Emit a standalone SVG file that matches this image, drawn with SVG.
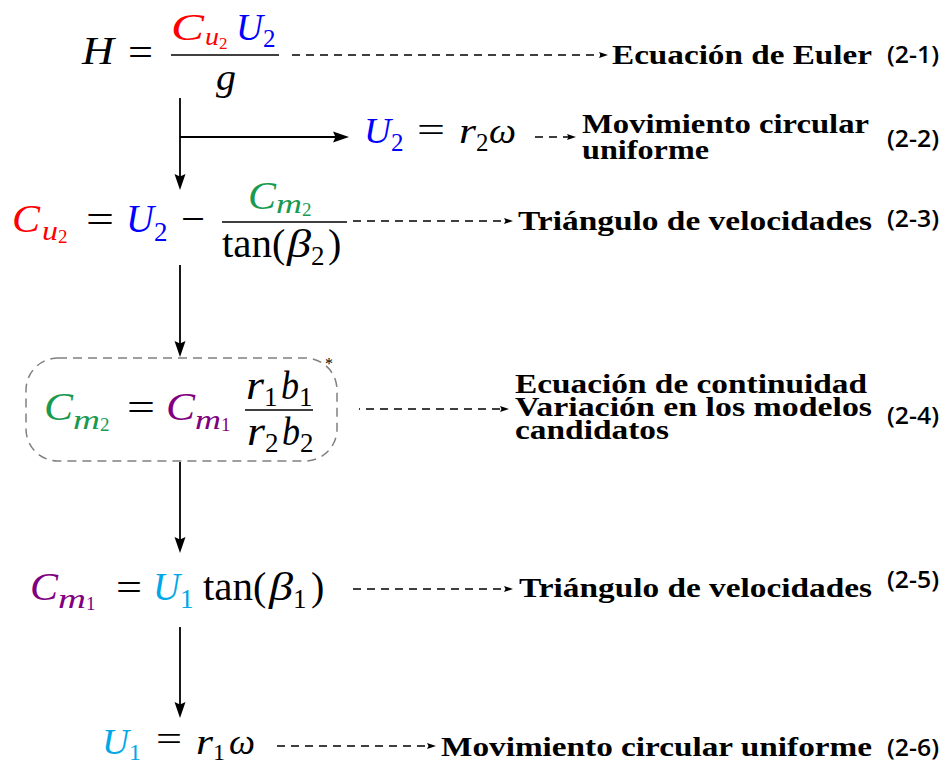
<svg xmlns="http://www.w3.org/2000/svg" width="951" height="765" viewBox="0 0 951 765">
<style>
.m{font-family:"Liberation Serif",serif;font-style:italic}
.r{font-family:"Liberation Serif",serif;font-style:normal}
.lbl{font-family:"Liberation Serif",serif;font-weight:bold;font-size:27px;fill:#000}
.num{font-family:"Open Sans",sans-serif;font-weight:600;font-size:23px;fill:#000}
.bar{stroke:#000;stroke-width:1.4}
.solid{stroke:#000;stroke-width:1.8;fill:none}
.dash{stroke:#000;stroke-width:1.5;stroke-dasharray:8 6;fill:none}
.red{fill:#ff0000}.blue{fill:#0000ff}.green{fill:#1a9a50}.purple{fill:#800080}.cyan{fill:#00a8e8}
</style>
<defs>
<marker id="ah" markerUnits="userSpaceOnUse" markerWidth="18" markerHeight="12" refX="10" refY="6" orient="auto">
<path d="M0,0.5 L16,6 L0,11.5 L2.5,6 z" fill="#000"/>
</marker>
<marker id="dh" markerUnits="userSpaceOnUse" markerWidth="10" markerHeight="7" refX="5" refY="3.5" orient="auto">
<path d="M0,0.5 L9,3.5 L0,6.5 L1.5,3.5 z" fill="#000"/>
</marker>
</defs>
<rect width="951" height="765" fill="#fff"/>

<g id="connectors">
<path class="solid" d="M180,98 V184" marker-end="url(#ah)"/>
<path class="solid" d="M180,137 H343" marker-end="url(#ah)"/>
<path class="solid" d="M180,265 V351" marker-end="url(#ah)"/>
<path class="solid" d="M180,462 V547" marker-end="url(#ah)"/>
<path class="solid" d="M180,627 V712" marker-end="url(#ah)"/>
<path class="dash" d="M292,55 H604" marker-end="url(#dh)"/>
<path class="dash" d="M535,137 H572" marker-end="url(#dh)"/>
<path class="dash" d="M353,221 H509" marker-end="url(#dh)"/>
<path class="dash" d="M359,409 H505" style="stroke-dashoffset:7" marker-end="url(#dh)"/>
<path class="dash" d="M353,589 H509" marker-end="url(#dh)"/>
<path class="dash" d="M277,746 H432" marker-end="url(#dh)"/>
</g>

<g id="eq1">
<text class="m" x="82" y="64" font-size="40" textLength="32" lengthAdjust="spacingAndGlyphs">H</text>
<text class="r" x="128" y="66" font-size="40" textLength="25" lengthAdjust="spacingAndGlyphs">=</text>
<text class="m red" x="171" y="40" font-size="37" textLength="33" lengthAdjust="spacingAndGlyphs">C</text>
<text class="m red" x="205" y="45" font-size="25" textLength="14" lengthAdjust="spacingAndGlyphs">u</text>
<text class="r red" x="219" y="49" font-size="17">2</text>
<text class="m blue" x="236" y="40" font-size="37" textLength="27" lengthAdjust="spacingAndGlyphs">U</text>
<text class="r blue" x="263" y="47" font-size="25">2</text>
<line class="bar" x1="171" y1="55" x2="279" y2="55"/>
<text class="m" x="216" y="90" font-size="38" textLength="20" lengthAdjust="spacingAndGlyphs">g</text>
</g>

<g id="eq2">
<text class="m blue" x="364" y="143" font-size="36" textLength="27" lengthAdjust="spacingAndGlyphs">U</text>
<text class="r blue" x="391" y="151" font-size="25">2</text>
<text class="r" x="417" y="142" font-size="36" textLength="28" lengthAdjust="spacingAndGlyphs">=</text>
<text class="m" x="459" y="143" font-size="36" textLength="17" lengthAdjust="spacingAndGlyphs">r</text>
<text class="r" x="476" y="151" font-size="25">2</text>
<text class="m" x="489" y="143" font-size="36" textLength="27" lengthAdjust="spacingAndGlyphs">ω</text>
</g>

<g id="eq3">
<text class="m red" x="12" y="232" font-size="40" textLength="28" lengthAdjust="spacingAndGlyphs">C</text>
<text class="m red" x="42" y="240" font-size="27" textLength="16" lengthAdjust="spacingAndGlyphs">u</text>
<text class="r red" x="58" y="243" font-size="19">2</text>
<text class="r" x="86" y="233" font-size="40" textLength="28" lengthAdjust="spacingAndGlyphs">=</text>
<text class="m blue" x="126" y="232" font-size="40" textLength="28" lengthAdjust="spacingAndGlyphs">U</text>
<text class="r blue" x="154" y="241" font-size="27">2</text>
<text class="r" x="181" y="232" font-size="40" textLength="24" lengthAdjust="spacingAndGlyphs">−</text>
<text class="m green" x="248" y="209" font-size="40" textLength="28" lengthAdjust="spacingAndGlyphs">C</text>
<text class="m green" x="276" y="213" font-size="27" textLength="26" lengthAdjust="spacingAndGlyphs">m</text>
<text class="r green" x="302" y="216" font-size="19">2</text>
<line class="bar" x1="222" y1="222" x2="347" y2="222"/>
<text class="r" x="222" y="257" font-size="40" textLength="50" lengthAdjust="spacingAndGlyphs">tan</text>
<text class="r" x="272" y="257" font-size="40">(</text>
<text class="m" x="287" y="257" font-size="40" textLength="24" lengthAdjust="spacingAndGlyphs">β</text>
<text class="r" x="311" y="265" font-size="27">2</text>
<text class="r" x="328" y="257" font-size="40">)</text>
</g>

<g id="eq4">
<rect x="26" y="358" width="311" height="103" rx="32" ry="32" fill="none" stroke="#808080" stroke-width="1.5" stroke-dasharray="9 6"/>
<text class="r" x="325" y="369" font-size="16">*</text>
<text class="m green" x="44" y="420" font-size="40" textLength="29" lengthAdjust="spacingAndGlyphs">C</text>
<text class="m green" x="73" y="429" font-size="27" textLength="27" lengthAdjust="spacingAndGlyphs">m</text>
<text class="r green" x="100" y="431" font-size="19">2</text>
<text class="r" x="127" y="421" font-size="40" textLength="28" lengthAdjust="spacingAndGlyphs">=</text>
<text class="m purple" x="166" y="420" font-size="40" textLength="29" lengthAdjust="spacingAndGlyphs">C</text>
<text class="m purple" x="195" y="429" font-size="27" textLength="26" lengthAdjust="spacingAndGlyphs">m</text>
<text class="r purple" x="221" y="431" font-size="19">1</text>
<line class="bar" x1="245" y1="410" x2="313" y2="410"/>
<text class="m" x="246" y="399" font-size="40" textLength="18" lengthAdjust="spacingAndGlyphs">r</text>
<text class="r" x="264" y="406" font-size="27">1</text>
<text class="m" x="281" y="399" font-size="40" textLength="18" lengthAdjust="spacingAndGlyphs">b</text>
<text class="r" x="299" y="406" font-size="27">1</text>
<text class="m" x="247" y="445" font-size="40" textLength="18" lengthAdjust="spacingAndGlyphs">r</text>
<text class="r" x="265" y="452" font-size="27">2</text>
<text class="m" x="282" y="445" font-size="40" textLength="18" lengthAdjust="spacingAndGlyphs">b</text>
<text class="r" x="300" y="452" font-size="27">2</text>
</g>

<g id="eq5">
<text class="m purple" x="30" y="600" font-size="40" textLength="28" lengthAdjust="spacingAndGlyphs">C</text>
<text class="m purple" x="58" y="608" font-size="27" textLength="28" lengthAdjust="spacingAndGlyphs">m</text>
<text class="r purple" x="86" y="610" font-size="19">1</text>
<text class="r" x="116" y="601" font-size="40" textLength="26" lengthAdjust="spacingAndGlyphs">=</text>
<text class="m cyan" x="153" y="600" font-size="40" textLength="27" lengthAdjust="spacingAndGlyphs">U</text>
<text class="r cyan" x="180" y="608" font-size="27">1</text>
<text class="r" x="203" y="600" font-size="40" textLength="50" lengthAdjust="spacingAndGlyphs">tan</text>
<text class="r" x="253" y="600" font-size="40">(</text>
<text class="m" x="269" y="600" font-size="40" textLength="24" lengthAdjust="spacingAndGlyphs">β</text>
<text class="r" x="293" y="608" font-size="27">1</text>
<text class="r" x="311" y="600" font-size="40">)</text>
</g>

<g id="eq6">
<text class="m cyan" x="102" y="754" font-size="35" textLength="27" lengthAdjust="spacingAndGlyphs">U</text>
<text class="r cyan" x="129" y="760" font-size="24">1</text>
<text class="r" x="156" y="751" font-size="35" textLength="26" lengthAdjust="spacingAndGlyphs">=</text>
<text class="m" x="196" y="754" font-size="35" textLength="17" lengthAdjust="spacingAndGlyphs">r</text>
<text class="r" x="213" y="760" font-size="24">1</text>
<text class="m" x="229" y="754" font-size="35" textLength="26" lengthAdjust="spacingAndGlyphs">ω</text>
</g>

<g id="label1">
<text class="lbl" x="612" y="64" textLength="260" lengthAdjust="spacingAndGlyphs">Ecuación de Euler</text>
<text class="num" x="887" y="63" textLength="52" lengthAdjust="spacingAndGlyphs">(2-1)</text>
</g>
<g id="label2">
<text class="lbl" x="582" y="133" textLength="287" lengthAdjust="spacingAndGlyphs">Movimiento circular</text>
<text class="lbl" x="582" y="159" textLength="127" lengthAdjust="spacingAndGlyphs">uniforme</text>
<text class="num" x="887" y="147" textLength="52" lengthAdjust="spacingAndGlyphs">(2-2)</text>
</g>
<g id="label3">
<text class="lbl" x="518" y="230" textLength="354" lengthAdjust="spacingAndGlyphs">Triángulo de velocidades</text>
<text class="num" x="887" y="227" textLength="52" lengthAdjust="spacingAndGlyphs">(2-3)</text>
</g>
<g id="label4">
<text class="lbl" x="515" y="393" textLength="352" lengthAdjust="spacingAndGlyphs">Ecuación de continuidad</text>
<text class="lbl" x="515" y="416" textLength="357" lengthAdjust="spacingAndGlyphs">Variación en los modelos</text>
<text class="lbl" x="515" y="439" textLength="154" lengthAdjust="spacingAndGlyphs">candidatos</text>
<text class="num" x="887" y="424" textLength="52" lengthAdjust="spacingAndGlyphs">(2-4)</text>
</g>
<g id="label5">
<text class="lbl" x="519" y="597" textLength="353" lengthAdjust="spacingAndGlyphs">Triángulo de velocidades</text>
<text class="num" x="887" y="588" textLength="52" lengthAdjust="spacingAndGlyphs">(2-5)</text>
</g>
<g id="label6">
<text class="lbl" x="441" y="756" textLength="431" lengthAdjust="spacingAndGlyphs">Movimiento circular uniforme</text>
<text class="num" x="887" y="756" textLength="52" lengthAdjust="spacingAndGlyphs">(2-6)</text>
</g>
</svg>
